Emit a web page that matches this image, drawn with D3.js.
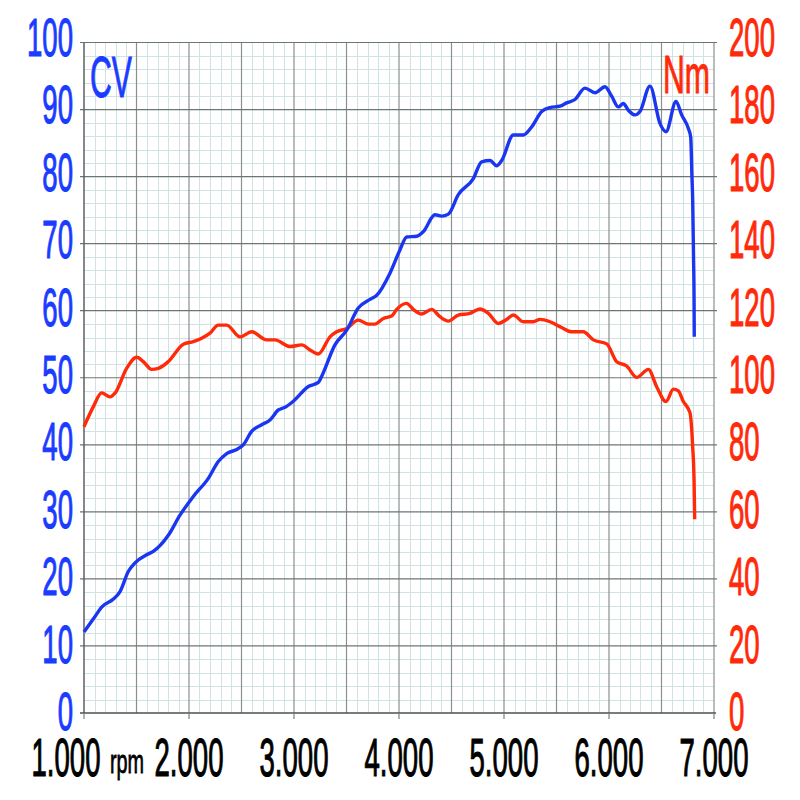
<!DOCTYPE html>
<html><head><meta charset="utf-8">
<script src="https://cdn.jsdelivr.net/npm/d3@7"></script>
<style>body{margin:0;background:#fff}svg{display:block}</style>
</head><body>
<svg id="c" width="800" height="800"></svg>
<script>
// Power (CV) curve: [rpm, CV]
const powerCV = [
 [1000,12.1],[1105,14.4],[1168,15.8],[1280,17.0],[1343,18.1],[1422,21.1],[1486,22.4],[1597,23.6],[1660,24.1],
 [1803,26.5],[1914,29.5],[2041,32.3],[2184,35.0],[2279,37.5],[2359,38.7],[2454,39.3],[2517,40.0],[2597,42.0],
 [2692,43.0],[2771,43.7],[2851,45.2],[2914,45.6],[2994,46.5],[3137,48.7],[3232,49.3],[3263,50.2],[3390,54.9],
 [3502,57.1],[3612,60.4],[3724,61.7],[3788,62.3],[3914,65.6],[4010,69.1],[4073,71.0],[4168,71.1],[4232,71.8],
 [4343,74.3],[4406,74.1],[4470,74.4],[4565,77.3],[4708,79.7],[4787,82.2],[4867,82.4],[4930,81.6],[4978,82.4],
 [5089,86.2],[5184,86.2],[5263,87.4],[5359,89.7],[5438,90.3],[5533,90.5],[5597,91.0],[5676,91.5],[5771,93.2],
 [5867,92.5],[5962,93.4],[6025,92.0],[6089,90.4],[6137,90.9],[6184,89.9],[6248,89.2],[6295,89.7],[6390,93.5],
 [6486,87.9],[6543,86.7],[6638,91.2],[6692,89.2],[6755,87.2],[6778,85.9],[6790,80.0],[6797,76.5],[6805,68.1],
 [6810,62.0],[6812,56.1]
];
// Torque (Nm) curve: [rpm, Nm]
const torqueNm = [
 [1000,85.4],[1089,91.4],[1168,95.5],[1248,94.3],[1295,95.4],[1406,102.8],[1502,106.1],[1565,104.8],[1645,102.5],
 [1708,102.8],[1803,104.8],[1946,110.0],[2041,110.8],[2121,111.8],[2200,113.3],[2279,115.7],[2359,115.7],
 [2486,112.2],[2597,113.7],[2740,111.3],[2819,111.3],[2962,109.3],[3073,109.8],[3152,108.3],[3232,107.1],
 [3343,112.2],[3406,113.7],[3502,114.7],[3612,117.2],[3708,116.0],[3771,116.0],[3851,117.7],[3930,118.4],
 [3978,120.4],[4073,122.2],[4136,120.4],[4216,119.0],[4311,120.4],[4390,118.2],[4470,116.9],[4565,118.7],
 [4676,119.2],[4771,120.5],[4851,119.2],[4946,116.2],[5025,117.4],[5089,118.7],[5184,116.7],[5279,116.7],
 [5343,117.4],[5438,116.7],[5549,115.0],[5644,113.7],[5755,113.7],[5851,111.3],[5978,110.1],[6073,104.8],
 [6168,103.5],[6264,100.1],[6375,102.5],[6454,97.3],[6543,92.9],[6613,96.6],[6660,96.1],[6708,92.9],
 [6771,89.6],[6797,79.4],[6810,69.5],[6816,57.8]
];
const cvTicks = [0,10,20,30,40,50,60,70,80,90,100];
const nmTicks = [0,20,40,60,80,100,120,140,160,180,200];
const rpmTicks = [1000,2000,3000,4000,5000,6000,7000];
const rpmTickLabels = ["1.000","2.000","3.000","4.000","5.000","6.000","7.000"];
const leftTitle = "CV", rightTitle = "Nm", unitLabel = "rpm";

const L=84, R=714, T=42.5, B=713;
const BLUE="#1a3cff", RED="#ff2a0a";
const FONT="'Liberation Sans', Arial, sans-serif";
const SX=0.51, FS=54;

const svg=d3.select("#c");
const x=d3.scaleLinear().domain([1000,7000]).range([L,R]);
const yL=d3.scaleLinear().domain([0,100]).range([B,T]);
const yR=d3.scaleLinear().domain([0,200]).range([B,T]);

const g=svg.append("g");
// minor grid
const minorX=d3.range(1000,7001,100).filter(v=>v%500!==0);
const minorY=d3.range(0,100.01,2).filter(v=>v%10!==0);
g.selectAll(".mx").data(minorX).join("line")
 .attr("x1",d=>Math.round(x(d))+0.5).attr("x2",d=>Math.round(x(d))+0.5).attr("y1",T).attr("y2",B)
 .attr("stroke","#d0e2e2").attr("stroke-width",1);
g.selectAll(".my").data(minorY).join("line")
 .attr("y1",d=>Math.round(yL(d))+0.5).attr("y2",d=>Math.round(yL(d))+0.5).attr("x1",L).attr("x2",R)
 .attr("stroke","#d0e2e2").attr("stroke-width",1);
// major grid
const majorX=d3.range(1500,7001,500);
g.selectAll(".Mx").data(majorX).join("line")
 .attr("x1",d=>x(d)).attr("x2",d=>x(d)).attr("y1",T).attr("y2",B)
 .attr("stroke","#8a8f8f").attr("stroke-width",1.2);
g.selectAll(".My").data(cvTicks.filter(d=>d>0)).join("line")
 .attr("y1",d=>yL(d)).attr("y2",d=>yL(d)).attr("x1",L-4).attr("x2",R+3)
 .attr("stroke","#6e7474").attr("stroke-width",1.2);
// axes lines
g.append("line").attr("x1",L).attr("x2",L).attr("y1",T).attr("y2",B).attr("stroke","#5a6060").attr("stroke-width",1.5);
g.append("line").attr("x1",L-4).attr("x2",R+2).attr("y1",B).attr("y2",B).attr("stroke","#4a5050").attr("stroke-width",1.6);
g.selectAll(".bt").data(rpmTicks).join("line")
 .attr("x1",d=>x(d)).attr("x2",d=>x(d)).attr("y1",B).attr("y2",B+6)
 .attr("stroke","#7a8080").attr("stroke-width",1.2);

// curves
const line=(ys)=>d3.line().x(d=>x(d[0])).y(d=>ys(d[1])).curve(d3.curveMonotoneX);
svg.append("path").datum(torqueNm).attr("d",line(yR)).attr("fill","none")
 .attr("stroke",RED).attr("stroke-width",3.4).attr("stroke-linejoin","round");
svg.append("path").datum(powerCV).attr("d",line(yL)).attr("fill","none")
 .attr("stroke","#1a36f0").attr("stroke-width",3.4).attr("stroke-linejoin","round");

function txt(s,px,py,size,color,anchor,sx,sw){
  svg.append("text").attr("transform",`translate(${px},${py}) scale(${sx},1)`)
   .attr("text-anchor",anchor).attr("font-family",FONT).attr("font-size",size)
   .attr("fill",color).attr("stroke",color).attr("stroke-width",sw).text(s);
}
cvTicks.forEach(v=>txt(String(v),73,yL(v)+17-0.035*v,FS,BLUE,"end",SX,1.2));
nmTicks.forEach(v=>txt(String(v),729,yR(v)+17-0.0175*v,FS,RED,"start",SX,1.2));
rpmTicks.forEach((v,i)=>{
  const cx = i===0 ? x(v)-18 : x(v);
  txt(rpmTickLabels[i],cx,776,FS,"#000","middle",SX,1.2);
});
txt(unitLabel,110,773,33,"#000","start",0.6,0.8);
txt(leftTitle,90,97,58,BLUE,"start",0.52,1);
txt(rightTitle,663,93,53,RED,"start",0.57,1);
</script>
</body></html>
